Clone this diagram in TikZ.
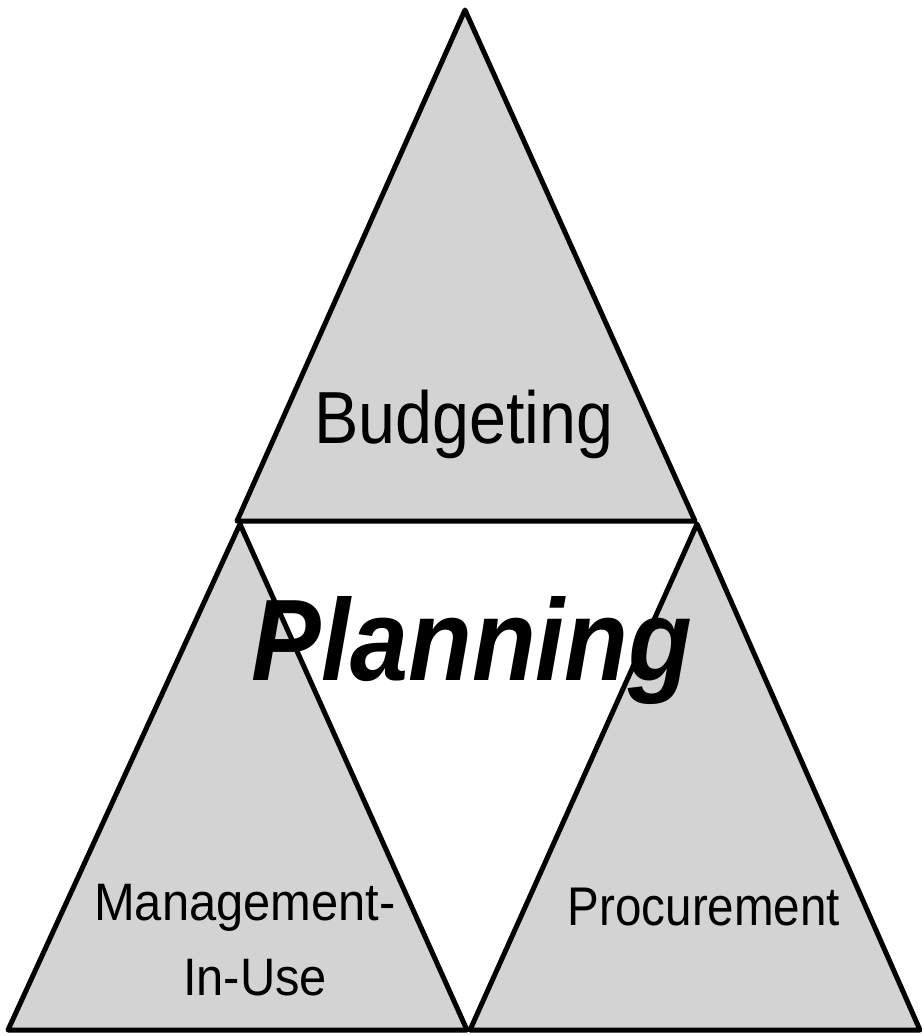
\documentclass[tikz,border=0pt]{standalone}
\usepackage{fontspec}
\setmainfont{Liberation Sans}
\usetikzlibrary{positioning}
\definecolor{panelGray}{HTML}{D3D3D3}

\begin{document}
\begin{tikzpicture}[x=0.02cm, y=-0.02cm,
    part/.style={fill=panelGray, draw=black, line width=0.1cm, line join=round},
    label/.style={anchor=base, inner sep=0pt, xscale=0.9, align=center},
  ]
    \useasboundingbox (0,0) rectangle (922,1036);

    % the three outer triangles
    \coordinate (topApex) at (465,10);
    \coordinate (leftApex) at (240,524);
    \coordinate (rightApex) at (697,524);
    \filldraw[part] (topApex) -- (695,521) -- (237,521) -- cycle;
    \filldraw[part] (leftApex) -- (467,1030) -- (8,1030) -- cycle;
    \filldraw[part] (rightApex) -- (920,1030) -- (470,1030) -- cycle;

    \node[label, font=\fontsize{42}{46}\selectfont] (budget) at (464,443) {Budgeting};
    \node[label, font=\fontsize{66}{70}\selectfont\bfseries\itshape] (plan) at (472,680) {Planning};
    \node[label, xscale=1.03, font=\fontsize{30}{34}\selectfont] (mgmt) at (245,920) {Management-};
    \node[label, xscale=1.03, font=\fontsize{30}{34}\selectfont] (inuse) at (255,995) {In-Use};
    \node[label, xscale=0.97, font=\fontsize{31}{35}\selectfont] (proc) at (704,925) {Procurement};
  \end{tikzpicture}
\end{document}
